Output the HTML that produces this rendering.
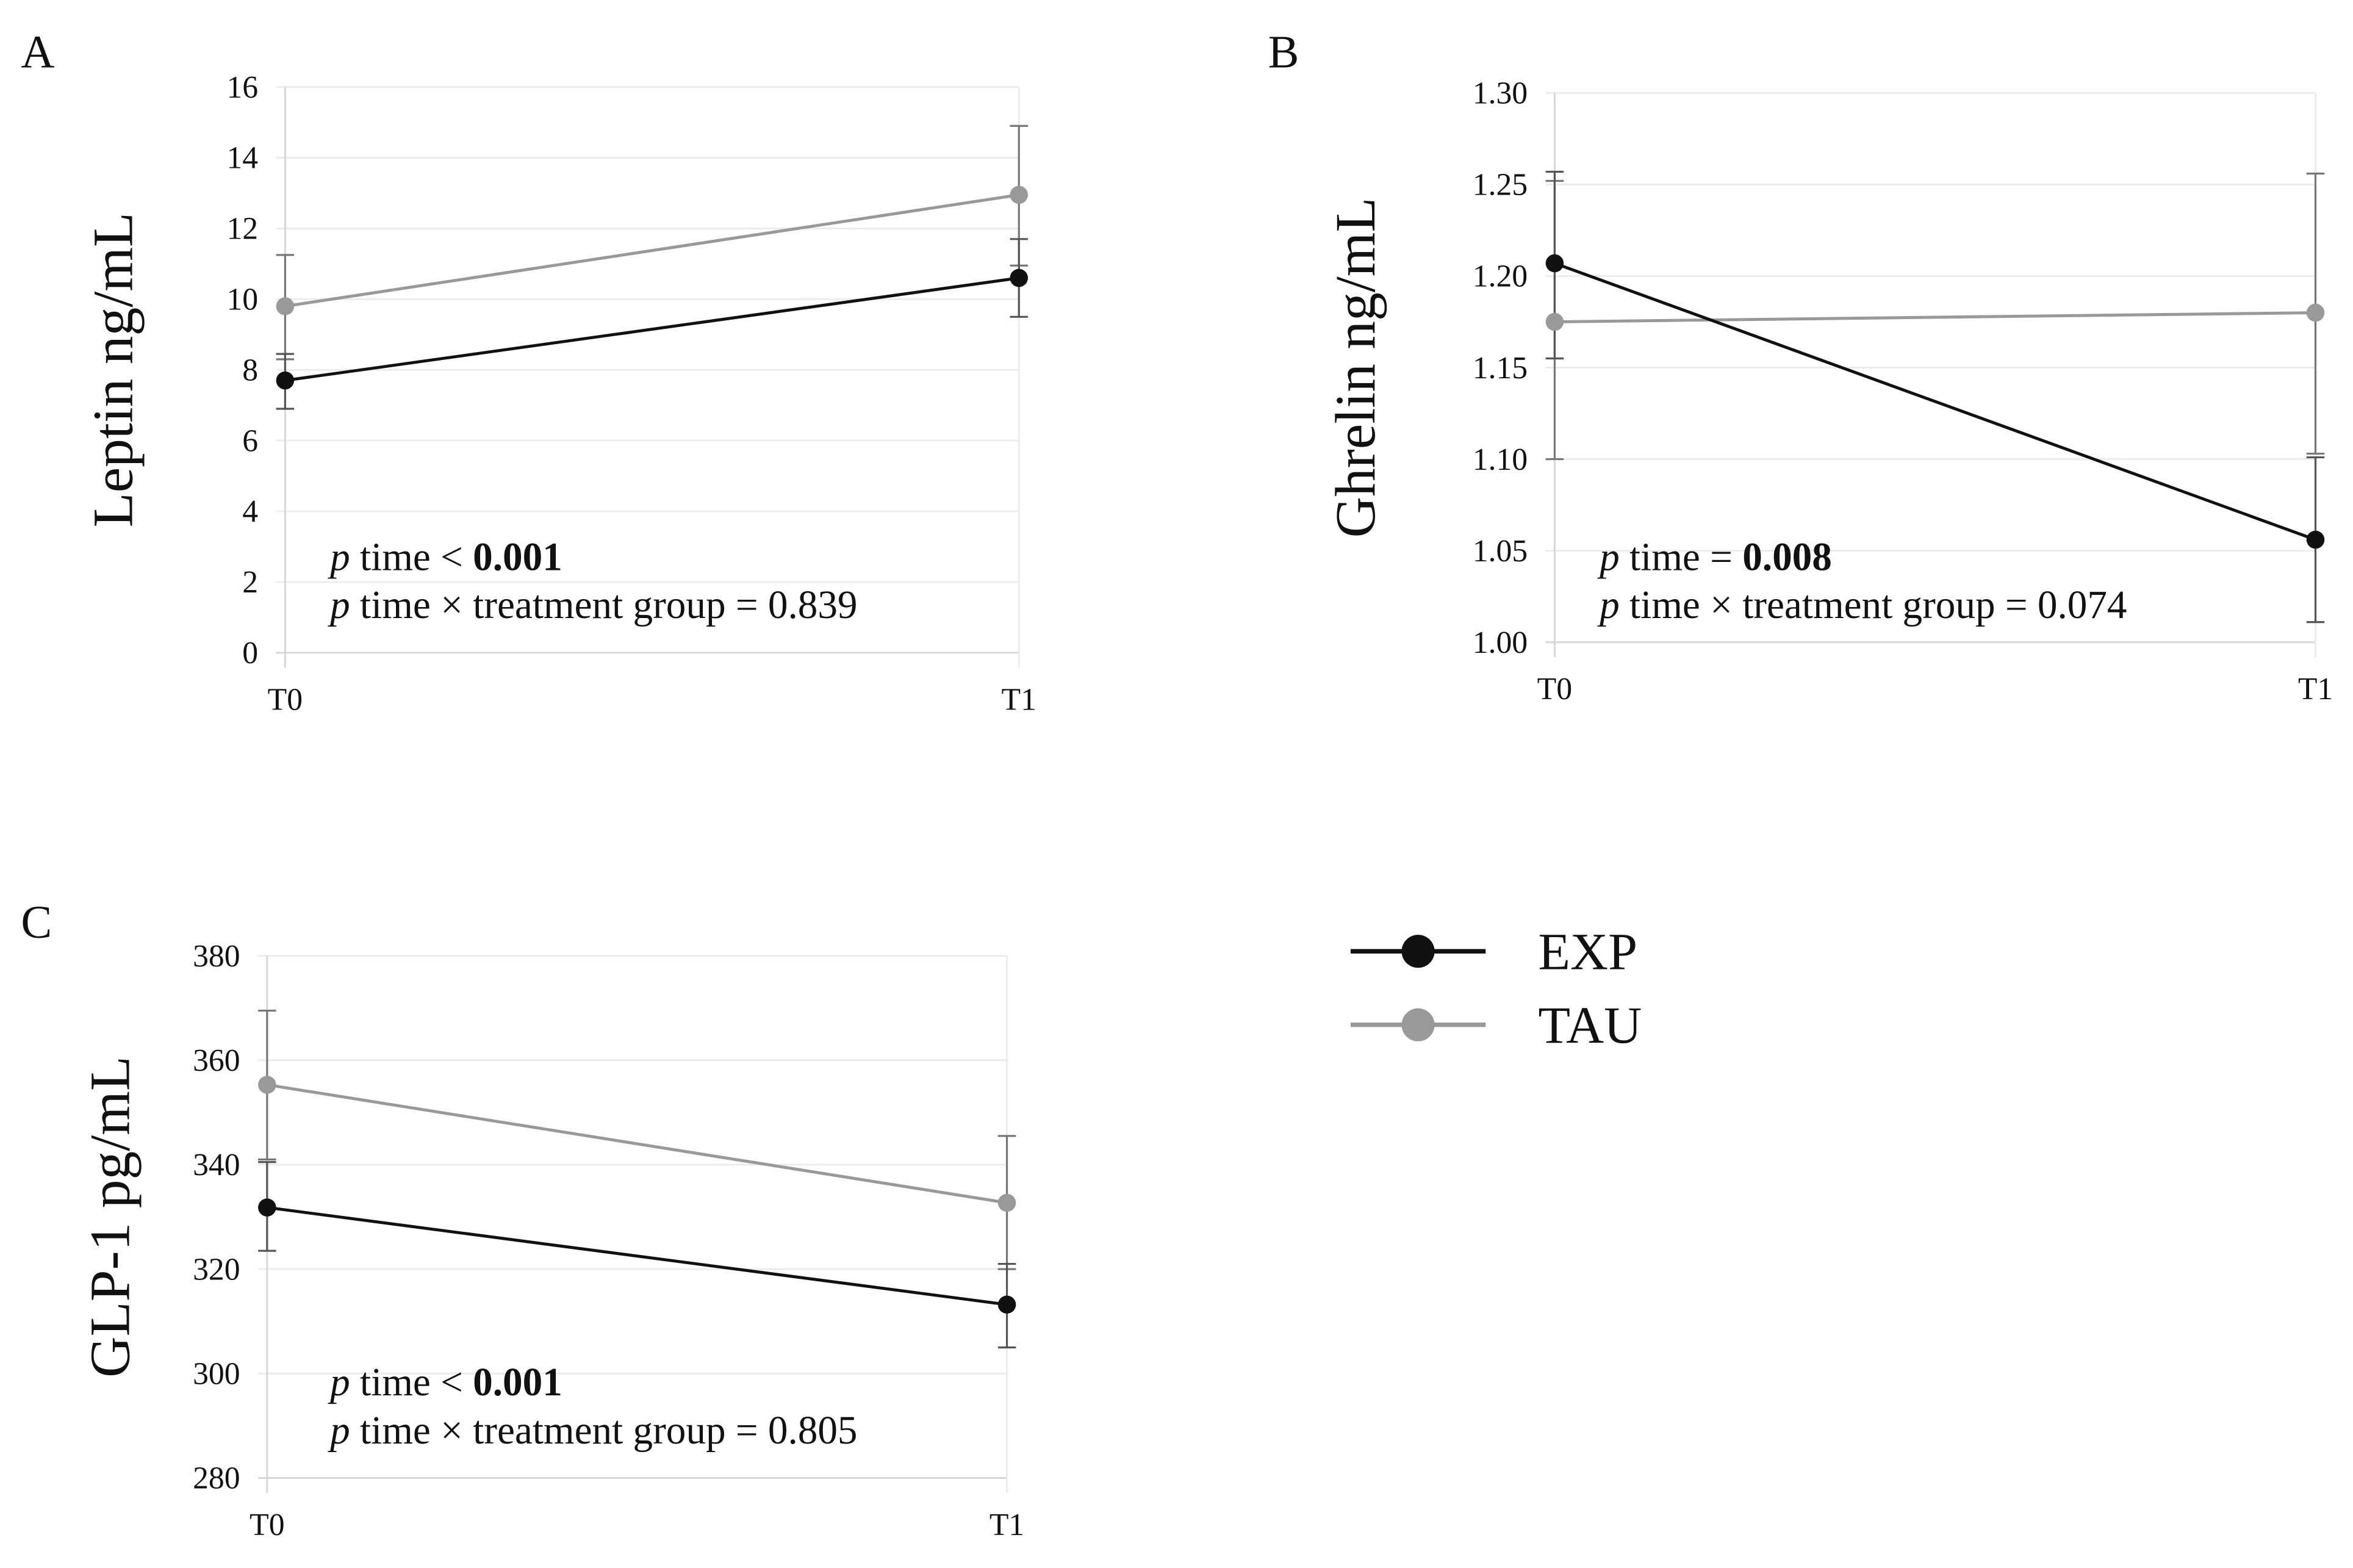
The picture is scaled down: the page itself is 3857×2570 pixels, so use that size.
<!DOCTYPE html>
<html><head><meta charset="utf-8">
<style>
html,body{margin:0;padding:0;background:#fff;}
svg{display:block;}
text{font-family:"Liberation Serif",serif;fill:#111;}
</style></head>
<body>
<svg id="fig" width="3857" height="2570" viewBox="0 0 1568 1045" preserveAspectRatio="none" xmlns="http://www.w3.org/2000/svg"></svg>
<script>
const timeCats = ["T0","T1"];
// Panel A: Leptin
const leptinTicks = [0,2,4,6,8,10,12,14,16];
const leptinExp = [7.7,10.6];
const leptinExpLo = [6.9,9.5];
const leptinExpHi = [8.45,11.7];
const leptinTau = [9.8,12.95];
const leptinTauLo = [8.3,10.95];
const leptinTauHi = [11.25,14.9];
// Panel B: Ghrelin
const ghrelinTicks = [1.00,1.05,1.10,1.15,1.20,1.25,1.30];
const ghrelinExp = [1.207,1.056];
const ghrelinExpLo = [1.155,1.011];
const ghrelinExpHi = [1.257,1.101];
const ghrelinTau = [1.175,1.180];
const ghrelinTauLo = [1.100,1.103];
const ghrelinTauHi = [1.252,1.256];
// Panel C: GLP-1
const glpTicks = [280,300,320,340,360,380];
const glpExp = [331.8,313.2];
const glpExpLo = [323.5,305];
const glpExpHi = [340.5,321];
const glpTau = [355.3,332.7];
const glpTauLo = [341,320];
const glpTauHi = [369.5,345.5];

const NS="http://www.w3.org/2000/svg";
const svg=document.getElementById('fig');
function mk(tag,attrs,parent){const e=document.createElementNS(NS,tag);for(const k in attrs)e.setAttribute(k,attrs[k]);(parent||svg).appendChild(e);return e;}

function panel(cfg){
  const g=mk('g',{});
  
  
  const ymin=cfg.ticks[0], ymax=cfg.ticks[cfg.ticks.length-1];
  const ys=v=>cfg.y0+(v-ymin)/(ymax-ymin)*(cfg.y1-cfg.y0);
  const xs=i=>cfg.x0+i*(cfg.x1-cfg.x0);
  cfg.ticks.forEach((t,i)=>{
    const y=ys(t);
    const l=mk('line',{x1:cfg.x0-6,x2:cfg.x1,y1:y,y2:y,stroke:i===0?'#d6d6d6':'#ececec','stroke-width':1.2},g);
    
    
    const tx=mk('text',{x:cfg.x0-18,y:y+7,'font-size':21,'text-anchor':'end'},g);
    tx.textContent=cfg.fmt(t);
    
    
  });
  const ax=mk('line',{x1:cfg.x0,x2:cfg.x0,y1:cfg.y1,y2:cfg.y0+10,stroke:'#d6d6d6','stroke-width':1.2},g);
  
  
  const ax2=mk('line',{x1:cfg.x1,x2:cfg.x1,y1:cfg.y1,y2:cfg.y0+10,stroke:'#ececec','stroke-width':1.2},g);
  
  
  timeCats.forEach((c,i)=>{
    const t=mk('text',{x:xs(i),y:cfg.y0+38,'font-size':21,'text-anchor':'middle'},g);
    t.textContent=c;
    
    
  });
  const yt=mk('text',{x:0,y:0,'font-size':38,'text-anchor':'middle',transform:`translate(${cfg.titleX},${(cfg.y0+cfg.y1)/2}) rotate(-90)`},g);
  yt.textContent=cfg.title;
  
  
  const pl=mk('text',{x:cfg.letterX,y:cfg.letterY,'font-size':31},g);
  pl.textContent=cfg.letter;
  
  
  const series=[{v:cfg.tau,lo:cfg.tauLo,hi:cfg.tauHi,col:'#999',ecol:'#777',n:'tau'},{v:cfg.exp,lo:cfg.expLo,hi:cfg.expHi,col:'#111',ecol:'#555',n:'exp'}];
  series.forEach(s=>{
    s.v.forEach((v,i)=>{
      const x=xs(i);
      const e=mk('path',{d:`M${x},${ys(s.lo[i])}V${ys(s.hi[i])}M${x-6},${ys(s.lo[i])}H${x+6}M${x-6},${ys(s.hi[i])}H${x+6}`,stroke:s.ecol,'stroke-width':1.3,fill:'none'},g);
      
      
    });
  });
  series.forEach(s=>{
    const ln=mk('line',{x1:xs(0),y1:ys(s.v[0]),x2:xs(1),y2:ys(s.v[1]),stroke:s.col,'stroke-width':2},g);
    
    
    s.v.forEach((v,i)=>{
      const c=mk('circle',{cx:xs(i),cy:ys(v),r:6,fill:s.col},g);
      
      
    });
  });
  const a1=mk('text',{x:cfg.annX,y:cfg.annY,'font-size':26.5},g);
  a1.innerHTML='<tspan font-style="italic">p</tspan> time '+cfg.op+' <tspan font-weight="bold">'+cfg.p1+'</tspan>';
  
  
  const a2=mk('text',{x:cfg.annX,y:cfg.annY+32,'font-size':26.5},g);
  a2.innerHTML='<tspan font-style="italic">p</tspan> time × treatment group = '+cfg.p2;
  
  
}

panel({name:'panel-a-leptin',letter:'A',letterX:14,letterY:45,title:'Leptin ng/mL',titleX:88,
  x0:190,x1:679,y0:435,y1:58,ticks:leptinTicks,fmt:t=>String(t),
  exp:leptinExp,expLo:leptinExpLo,expHi:leptinExpHi,tau:leptinTau,tauLo:leptinTauLo,tauHi:leptinTauHi,
  annX:220,annY:380,op:'<',p1:'0.001',p2:'0.839'});
panel({name:'panel-b-ghrelin',letter:'B',letterX:845,letterY:45,title:'Ghrelin ng/mL',titleX:916,
  x0:1036,x1:1543,y0:428,y1:62,ticks:ghrelinTicks,fmt:t=>t.toFixed(2),
  exp:ghrelinExp,expLo:ghrelinExpLo,expHi:ghrelinExpHi,tau:ghrelinTau,tauLo:ghrelinTauLo,tauHi:ghrelinTauHi,
  annX:1066,annY:380,op:'=',p1:'0.008',p2:'0.074'});
panel({name:'panel-c-glp1',letter:'C',letterX:14,letterY:625,title:'GLP-1 pg/mL',titleX:86,
  x0:178,x1:671,y0:985,y1:637,ticks:glpTicks,fmt:t=>String(t),
  exp:glpExp,expLo:glpExpLo,expHi:glpExpHi,tau:glpTau,tauLo:glpTauLo,tauHi:glpTauHi,
  annX:220,annY:930,op:'<',p1:'0.001',p2:'0.805'});

// Legend
const leg=mk('g',{});


[['EXP','#111',634],['TAU','#999',683]].forEach(([n,c,y])=>{
  const l=mk('line',{x1:900,x2:990,y1:y,y2:y,stroke:c,'stroke-width':3},leg);
  
  
  const ci=mk('circle',{cx:945,cy:y,r:11,fill:c},leg);
  
  
  const t=mk('text',{x:1025,y:y+12,'font-size':35},leg);
  t.textContent=n;
  
  
});
</script>
</body></html>
